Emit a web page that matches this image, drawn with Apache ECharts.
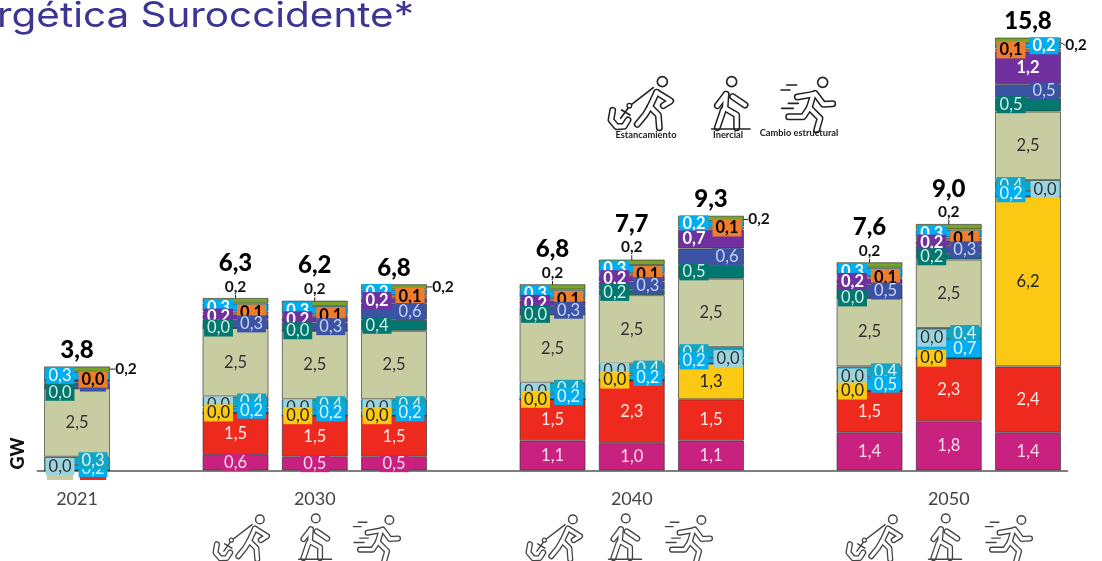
<!DOCTYPE html>
<html>
<head>
<meta charset="utf-8">
<style>
  html, body { margin: 0; padding: 0; background: #fff; overflow: hidden; }
  #chart { width: 1102px; height: 561px; }
</style>
</head>
<body>
<div id="chart"></div>
<script src="https://cdn.jsdelivr.net/npm/echarts@6/dist/echarts.min.js"></script>
<script>
// one slot per column, null = gap between the year groups
const tickLabels = ['2021', '', '', '2030', '', '', '', '2040', '', '', '', '2050', '']
const totals =    [3.8, null, 6.3, 6.2, 6.8, null, 6.8, 7.7, 9.3, null, 7.6, 9.0, 15.8]
const magenta =   [0.0, null, 0.6, 0.5, 0.5, null, 1.1, 1.0, 1.1, null, 1.4, 1.8, 1.4]
const red =       [0.0, null, 1.5, 1.5, 1.5, null, 1.5, 2.3, 1.5, null, 1.5, 2.3, 2.4]
const yellow =    [0.0, null, 0.0, 0.0, 0.0, null, 0.0, 0.0, 1.3, null, 0.0, 0.0, 6.2]
const lightBlue = [0.0, null, 0.0, 0.0, 0.0, null, 0.0, 0.0, 0.0, null, 0.0, 0.0, 0.0]
const brightBlue = [0.2, null, 0.2, 0.2, 0.2, null, 0.2, 0.2, 0.2, null, 0.5, 0.7, 0.2]
const tealBlue =  [0.3, null, 0.4, 0.4, 0.4, null, 0.4, 0.4, 0.4, null, 0.4, 0.4, 0.4]
const khaki =     [2.5, null, 2.5, 2.5, 2.5, null, 2.5, 2.5, 2.5, null, 2.5, 2.5, 2.5]
const teal =      [0.0, null, 0.0, 0.0, 0.4, null, 0.0, 0.2, 0.5, null, 0.0, 0.2, 0.5]
const indigo =    [0.2, null, 0.3, 0.3, 0.6, null, 0.3, 0.3, 0.6, null, 0.5, 0.3, 0.5]
const purple =    [0.1, null, 0.2, 0.2, 0.2, null, 0.2, 0.2, 0.7, null, 0.2, 0.2, 1.2]
const orange =    [0.0, null, 0.1, 0.1, 0.1, null, 0.1, 0.1, 0.1, null, 0.1, 0.1, 0.1]
const cyan =      [0.3, null, 0.3, 0.3, 0.2, null, 0.3, 0.3, 0.2, null, 0.3, 0.3, 0.2]
const green =     [0.2, null, 0.2, 0.2, 0.2, null, 0.2, 0.2, 0.2, null, 0.2, 0.2, 0.2]

const FONT = 'Lato'
const fmt = (v) => v.toFixed(1).replace('.', ',')
const barBorder = 'rgba(50,50,50,0.65)'

// order = stacking order, lower series draw their labels over the upper ones
const stackDefs = [
  { name: 'magenta', data: magenta, color: '#c9217f', text: '#f8dcec', dx: 0 },
  { name: 'red', data: red, color: '#ee2a1e', text: '#ffe9e2', dx: 0 },
  { name: 'yellow', data: yellow, color: '#fbc913', text: '#222', dx: -17 },
  { name: 'lightBlue', data: lightBlue, color: '#9bd3df', text: '#333', dx: -17 },
  { name: 'brightBlue', data: brightBlue, color: '#00aeef', text: '#e4f7ff', dx: 16 },
  { name: 'tealBlue', data: tealBlue, color: '#13a5c4', text: '#d8f4fb', dx: 16 },
  { name: 'khaki', data: khaki, color: '#c8cda1', text: '#333', dx: 0 },
  { name: 'teal', data: teal, color: '#00786f', text: '#d2ece6', dx: -17 },
  { name: 'indigo', data: indigo, color: '#3b53a4', text: '#c8d3f0', dx: 16 },
  { name: 'purple', data: purple, color: '#70309f', text: '#fff', dx: -17, bold: true },
  { name: 'orange', data: orange, color: '#f07d2c', text: '#000', dx: 16, bold: true },
  { name: 'cyan', data: cyan, color: '#00aeef', text: '#fff', dx: -17, bold: true }
]

// label nudges per series and slot
// 2021: the two blue labels swap so the 0,3 box ends up above the 0,2 box,
// and labels buried under others only show as a strip of their box
const labelTweaks = {
  magenta: { 0: { hide: true } },
  red: { 0: { dx: 16, dy: 8, strip: 3 } },
  yellow: { 0: { dy: 7, strip: 5, bg: '#c8cda1' }, 8: { dx: 0 }, 12: { dx: 0 } },
  lightBlue: {
    0: { dy: -4 }, 2: { dy: -8 }, 3: { dy: -8 }, 4: { dy: -8 }, 6: { dy: -8 }, 7: { dy: -9 },
    8: { dx: 17, dy: -5 }, 10: { dy: -14 }, 11: { dy: -20 }, 12: { dx: 17, dy: -7 }
  },
  brightBlue: { 0: { dy: -7, bg: '#13a5c4', from: tealBlue }, 8: { dx: -17 }, 12: { dx: -17 } },
  tealBlue: { 0: { dy: 8, bg: '#00aeef', from: brightBlue }, 8: { dx: -17 }, 12: { dx: -17 } },
  teal: { 0: { dy: 4 } },
  indigo: { 0: { dy: 4, strip: 4 } },
  purple: { 0: { hide: true }, 12: { dx: 0 } },
  orange: { 12: { dx: -17 } },
  cyan: { 0: { regular: true }, 12: { dx: 16 } }
}

// where the 0,2 of the green cap sits, slot -> [dx, dy]
const capOffsets = {
  0: [49, 0], 2: [0, -14], 3: [0, -14], 4: [49, 0], 6: [0, -14], 7: [0, -15],
  8: [48, 1], 10: [0, -14], 11: [0, -15], 12: [48, 5]
}

const barSeries = stackDefs.map((def) => ({
  name: def.name,
  type: 'bar',
  stack: 'gw',
  z: 2,
  barWidth: 66,
  barGap: '-100%',
  itemStyle: { color: def.color, borderColor: barBorder, borderWidth: 1 },
  data: def.data
}))

// labels share the z of their bar, so they ride on a second, see-through stack
// laid over the first one, otherwise the next bar up would cover them
const labelSeries = stackDefs.map((def, i) => ({
  name: def.name + 'Label',
  type: 'bar',
  stack: 'labels',
  z: 40 - i,
  barWidth: 66,
  barGap: '-100%',
  itemStyle: { color: 'transparent', borderWidth: 0 },
  data: def.data.map((v, slot) => {
    if (v === null) return null
    const t = (labelTweaks[def.name] || {})[slot] || {}
    const shown = t.from ? t.from[slot] : v
    return {
      value: v,
      label: {
        show: !t.hide,
        position: 'inside',
        offset: [t.dx !== undefined ? t.dx : def.dx, t.dy || 0],
        formatter: t.strip ? ' ' : fmt(shown),
        color: def.text,
        fontFamily: FONT,
        fontSize: t.strip ? 1 : 16.5,
        fontWeight: def.bold && !t.regular ? 'bold' : 'normal',
        lineHeight: t.strip || 15,
        padding: t.strip ? [0, 13] : [1, 3],
        backgroundColor: t.bg || def.color
      }
    }
  })
}))

const capSeries = {
  name: 'green',
  type: 'bar',
  stack: 'gw',
  z: 2,
  barWidth: 66,
  barGap: '-100%',
  itemStyle: { color: '#7aa329', borderColor: barBorder, borderWidth: 1 },
  label: {
    show: true,
    position: 'inside',
    formatter: (p) => fmt(p.value),
    color: '#111',
    fontFamily: FONT,
    fontSize: 15.5,
    fontWeight: 'bold'
  },
  labelLine: { show: true, lineStyle: { color: '#222', width: 1 } },
  labelLayout: (params) => {
    const o = capOffsets[params.dataIndex]
    return o ? { dx: o[0], dy: o[1] } : {}
  },
  data: green
}

const totalSeries = {
  name: 'total',
  type: 'scatter',
  symbolSize: 0,
  z: 50,
  itemStyle: { opacity: 1 },
  data: totals.map((v, slot) => (v === null ? null : {
    value: v,
    label: {
      show: true,
      position: 'inside',
      offset: [0, capOffsets[slot][0] ? -16 : -35],
      formatter: fmt(v),
      color: '#000',
      fontFamily: FONT,
      fontSize: 24,
      fontWeight: 900
    }
  }))
}

// line icons, drawn in their own coordinates
const limbs = {
  anchor: [
    [[170, 82], [150, 125]],
    [[170, 82], [212, 108], [190, 122]],
    [[150, 125], [175, 150], [178, 188]],
    [[150, 125], [135, 150], [112, 178]],
    [[38, 136], [33, 165], [50, 185], [72, 184], [84, 165]]
  ],
  walker: [
    [[378, 88], [375, 130]],
    [[398, 95], [435, 120]],
    [[378, 88], [352, 122]],
    [[375, 130], [410, 150], [410, 188]],
    [[370, 135], [352, 188]]
  ],
  sprinter: [
    [[640, 88], [628, 128]],
    [[645, 85], [670, 118], [698, 116]],
    [[640, 88], [592, 96]],
    [[628, 128], [660, 160], [650, 195]],
    [[628, 128], [610, 155], [566, 155]]
  ]
}
const thinLines = {
  anchor: [
    [[160, 68], [95, 118]],
    [[84, 130], [62, 160]],
    [[65, 135], [90, 150]]
  ],
  walker: [[[335, 192], [450, 192]]],
  sprinter: [
    [[560, 60], [590, 60]],
    [[543, 75], [570, 75]],
    [[565, 115], [595, 115]],
    [[545, 130], [580, 130]]
  ]
}
const heads = { anchor: [187, 50], walker: [395, 50], sprinter: [668, 52] }

const line = (points, width, stroke) => ({
  type: 'polyline',
  silent: true,
  shape: { points },
  style: { fill: null, stroke, lineWidth: width, lineCap: 'round', lineJoin: 'round' }
})

const drawIcon = (kind, x, y, scale, stroke) => {
  const children = []
  limbs[kind].forEach((pts) => children.push(line(pts, 21, stroke)))
  limbs[kind].forEach((pts) => children.push(line(pts, 12, '#fff')))
  thinLines[kind].forEach((pts) => children.push(line(pts, 5, stroke)))
  children.push({ type: 'circle', silent: true, shape: { cx: heads[kind][0], cy: heads[kind][1], r: 15 }, style: { fill: '#fff', stroke, lineWidth: 5 } })
  if (kind === 'anchor') {
    children.push({ type: 'circle', silent: true, shape: { cx: 88, cy: 122, r: 7 }, style: { fill: '#fff', stroke, lineWidth: 4 } })
  }
  return { type: 'group', x, y, scaleX: scale, scaleY: scale, children }
}

const legendText = (text, x, y) => ({
  type: 'text',
  x,
  y,
  style: { text, fill: '#222', fontFamily: FONT, fontSize: 9.3, fontWeight: 'bold', align: 'center', verticalAlign: 'middle' }
})

const graphics = [
  // the heading runs off the left edge of the slide, only its tail is in frame
  {
    type: 'text',
    x: -3,
    y: -1,
    scaleX: 1.155,
    style: { text: 'rgética Suroccidente*', fill: '#3d3593', fontFamily: 'Inter', fontSize: 35, verticalAlign: 'top' }
  },
  drawIcon('anchor', 600, 65, 1 / 3, '#222'),
  drawIcon('walker', 600, 65, 1 / 3, '#222'),
  drawIcon('sprinter', 600, 65, 1 / 3, '#222'),
  legendText('Estancamiento', 646, 135),
  legendText('Inercial', 728, 135),
  legendText('Cambio estructural', 799, 133)
]
;[[206, 202, 197], [519, 512, 509], [839, 832, 829]].forEach((xs) => {
  graphics.push(drawIcon('anchor', xs[0], 505, 0.288, '#444'))
  graphics.push(drawIcon('walker', xs[1], 504, 0.288, '#444'))
  graphics.push(drawIcon('sprinter', xs[2], 505, 0.288, '#444'))
})

const option = {
  animation: false,
  grid: { left: 37.4, right: 34.35, top: 4.7, bottom: 90.5 },
  xAxis: {
    type: 'category',
    data: tickLabels,
    axisTick: { show: false },
    axisLine: { lineStyle: { color: '#555', width: 1.5 } },
    axisLabel: { interval: 0, margin: 20, color: '#444', fontFamily: FONT, fontSize: 18 }
  },
  yAxis: {
    type: 'value',
    min: 0,
    max: 17,
    offset: 19,
    name: 'GW',
    nameLocation: 'start',
    nameGap: -33,
    nameRotate: 90,
    nameTextStyle: { color: '#111', fontFamily: FONT, fontSize: 18, fontWeight: 900 },
    axisLine: { show: false },
    axisTick: { show: false },
    axisLabel: { show: false },
    splitLine: { show: false }
  },
  graphic: graphics,
  series: [...barSeries, capSeries, ...labelSeries, totalSeries]
}

const chartInstance = echarts.init(document.getElementById('chart'))
chartInstance.setOption(option)
</script>
</body>
</html>
